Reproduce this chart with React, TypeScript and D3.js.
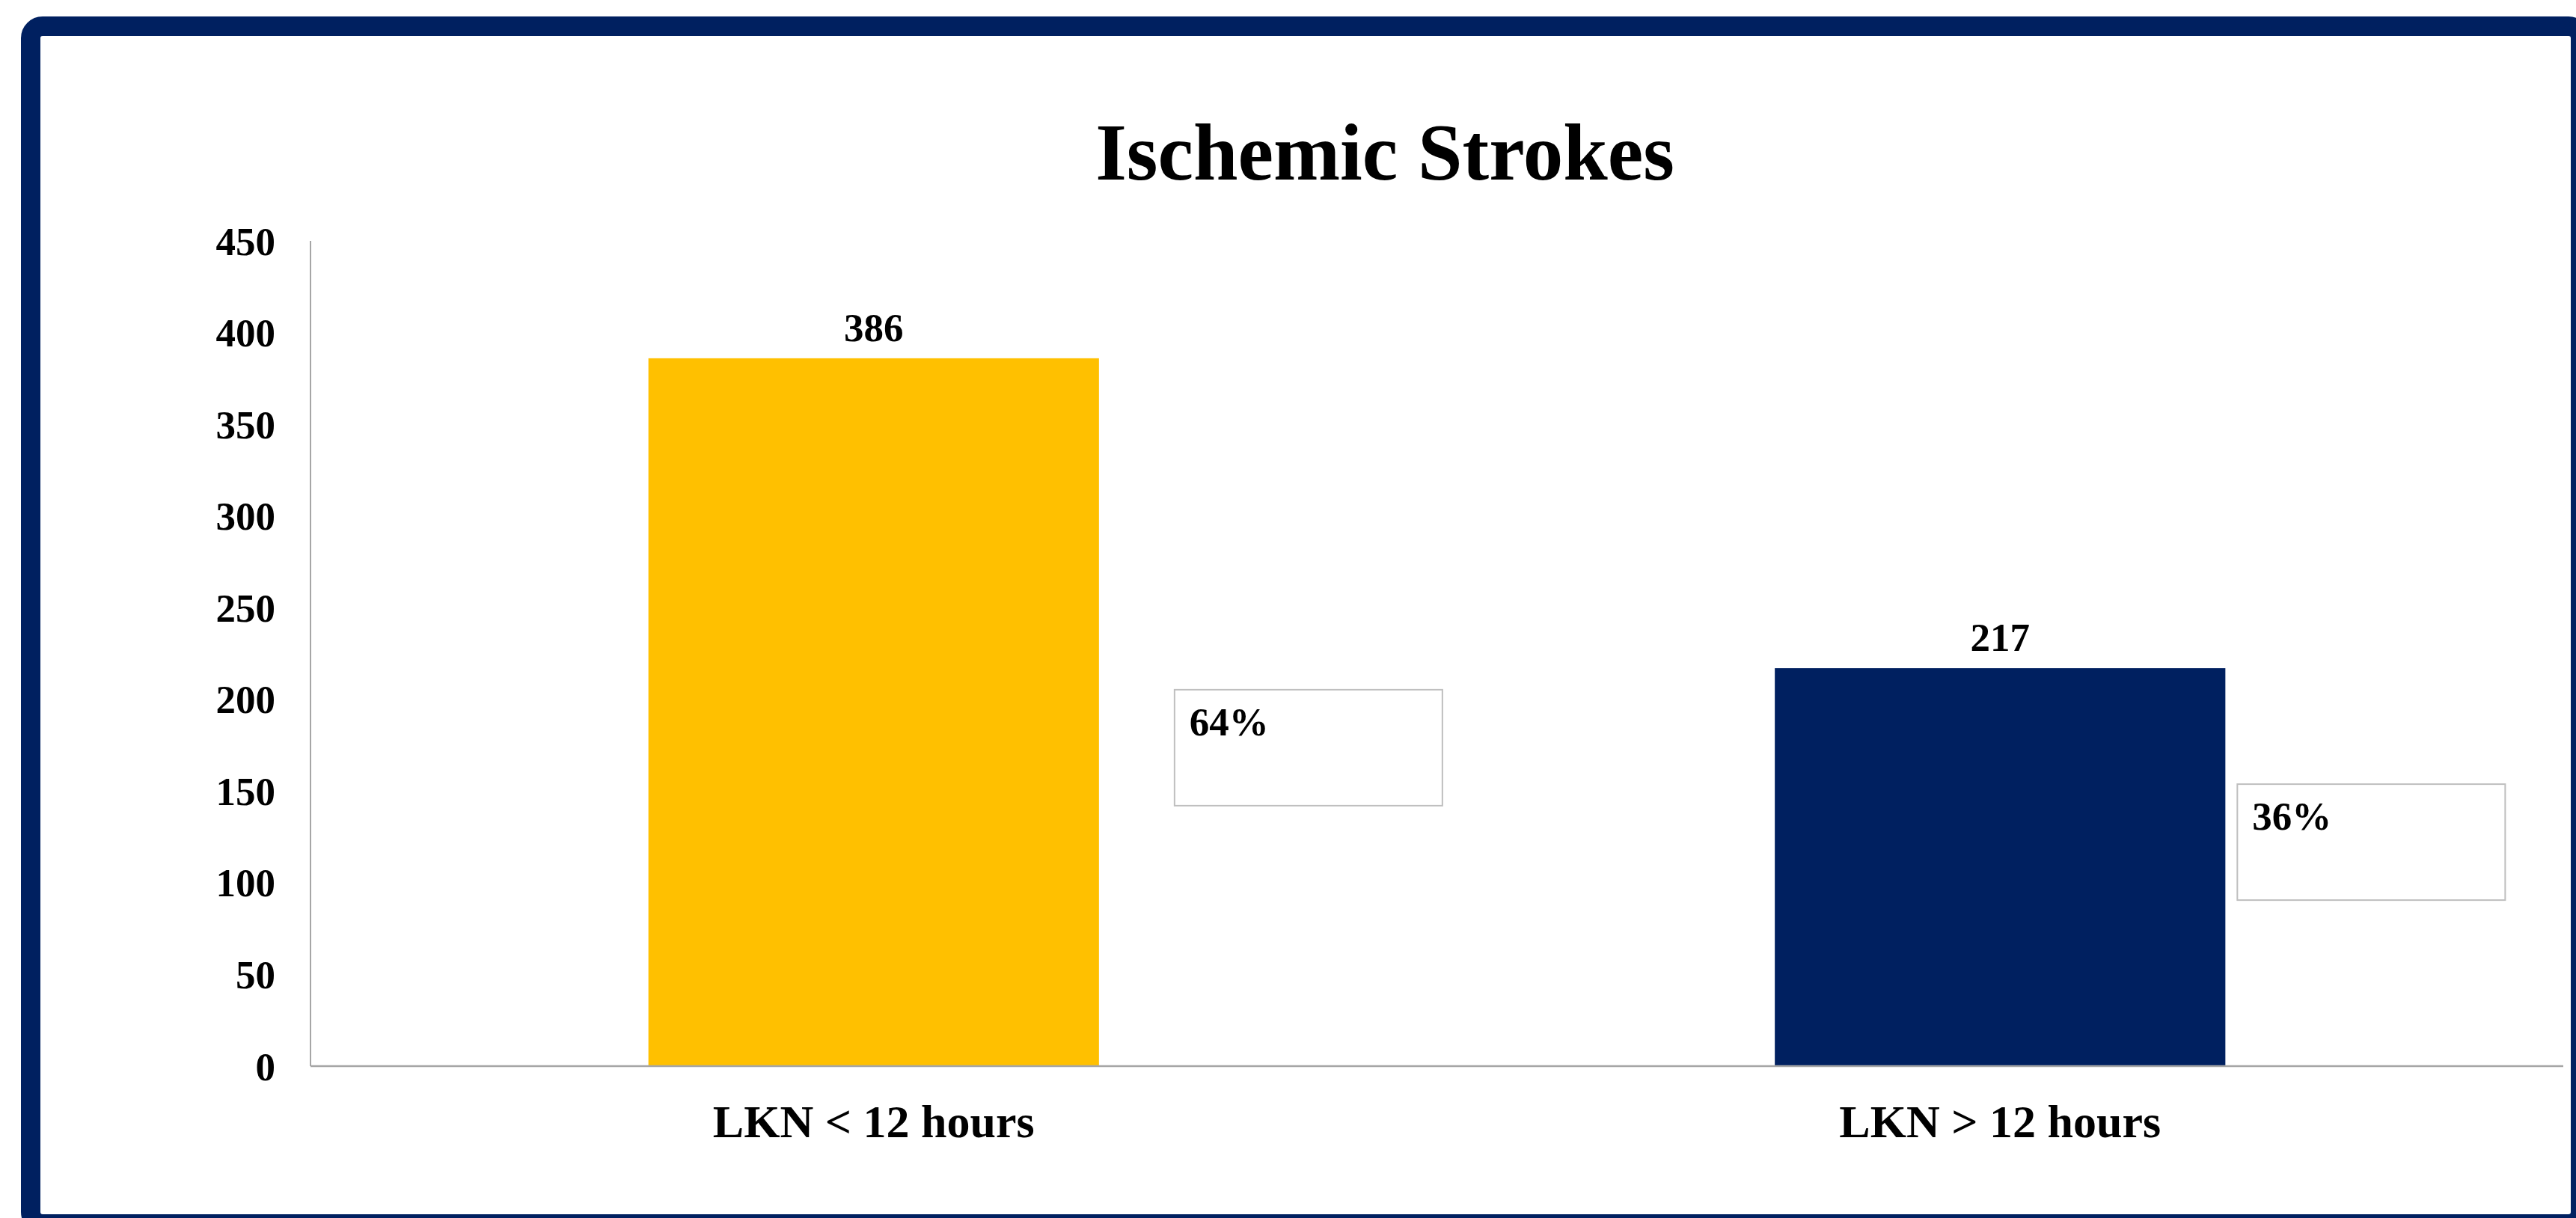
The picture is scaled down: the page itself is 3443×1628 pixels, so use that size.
import React from "react";
import * as d3 from "d3";

// chart values
const categories = ["LKN < 12 hours", "LKN > 12 hours"];
const strokeCounts = [386, 217];
const shareLabels = ["64%", "36%"];
const barColors = ["#FFC000", "#002060"];
const yTickValues = [0, 50, 100, 150, 200, 250, 300, 350, 400, 450];

// callout boxes for the share labels (offsets from the bar's right / top edge)
const calloutOffsets = [
    { dx: 101, dy: 443 },
    { dx: 16, dy: 155 },
];

const W = 3443;
const H = 1628;
const FONT = "'Liberation Serif', 'Times New Roman', Times, serif";
const NAVY = "#002060";

export default function App() {
    const ref = React.useRef<SVGSVGElement>(null);

    React.useEffect(() => {
        drawChart();
    }, []);

    function drawChart() {
        const svg = d3.select(ref.current);
        svg.selectAll("*").remove();

        const margin = { top: 322, bottom: 203, left: 415, right: 17 };
        const width = W - margin.left - margin.right;
        const height = H - margin.top - margin.bottom;

        svg.append("rect").attr("width", W).attr("height", H).attr("fill", "#ffffff");

        // navy frame, running off the right and bottom edges
        svg.append("rect")
            .attr("x", 41)
            .attr("y", 35)
            .attr("width", 3408)
            .attr("height", 1601)
            .attr("rx", 16)
            .attr("fill", "none")
            .attr("stroke", NAVY)
            .attr("stroke-width", 26);

        // title
        svg.append("text")
            .attr("x", 1851)
            .attr("y", 240)
            .attr("text-anchor", "middle")
            .attr("font-family", FONT)
            .attr("font-weight", "bold")
            .attr("font-size", 107)
            .attr("fill", "#000")
            .text("Ischemic Strokes");

        const g = svg
            .append("g")
            .attr("transform", `translate(${margin.left},${margin.top})`);

        const x = d3
            .scaleBand()
            .domain(categories)
            .range([0, width])
            .paddingInner(0.6)
            .paddingOuter(0.3);

        const y = d3.scaleLinear().domain([0, 450]).range([height, 0]);

        // y tick labels
        g.selectAll(".ytick")
            .data(yTickValues)
            .enter()
            .append("text")
            .attr("class", "ytick")
            .attr("x", -47)
            .attr("y", (d) => y(d))
            .attr("dy", "0.35em")
            .attr("text-anchor", "end")
            .attr("font-family", FONT)
            .attr("font-weight", "bold")
            .attr("font-size", 53)
            .attr("fill", "#000")
            .text((d) => d);

        // bars
        g.selectAll(".bar")
            .data(strokeCounts)
            .enter()
            .append("rect")
            .attr("class", "bar")
            .attr("x", (d, i) => x(categories[i]))
            .attr("y", (d) => y(d))
            .attr("width", x.bandwidth())
            .attr("height", (d) => y(0) - y(d))
            .attr("fill", (d, i) => barColors[i]);

        // axis lines
        g.append("line")
            .attr("x1", 0)
            .attr("x2", 0)
            .attr("y1", 0)
            .attr("y2", height)
            .attr("stroke", "#A6A6A6")
            .attr("stroke-width", 2);
        g.append("line")
            .attr("x1", 0)
            .attr("x2", width)
            .attr("y1", height)
            .attr("y2", height)
            .attr("stroke", "#A6A6A6")
            .attr("stroke-width", 2.5);

        // value labels
        g.selectAll(".value")
            .data(strokeCounts)
            .enter()
            .append("text")
            .attr("class", "value")
            .attr("x", (d, i) => x(categories[i]) + x.bandwidth() / 2)
            .attr("y", (d) => y(d) - 23)
            .attr("text-anchor", "middle")
            .attr("font-family", FONT)
            .attr("font-weight", "bold")
            .attr("font-size", 53)
            .attr("fill", "#000")
            .text((d) => d);

        // category labels
        g.selectAll(".cat")
            .data(categories)
            .enter()
            .append("text")
            .attr("class", "cat")
            .attr("x", (d) => x(d) + x.bandwidth() / 2)
            .attr("y", height + 95)
            .attr("text-anchor", "middle")
            .attr("font-family", FONT)
            .attr("font-weight", "bold")
            .attr("font-size", 62)
            .attr("fill", "#000")
            .text((d) => d);

        // share callouts
        const callout = g
            .selectAll(".callout")
            .data(shareLabels)
            .enter()
            .append("g")
            .attr("class", "callout")
            .attr("transform", (d, i) => {
                const bx = x(categories[i]) + x.bandwidth() + calloutOffsets[i].dx;
                const by = y(strokeCounts[i]) + calloutOffsets[i].dy;
                return `translate(${bx},${by})`;
            });
        callout
            .append("rect")
            .attr("width", 358)
            .attr("height", 155)
            .attr("fill", "#ffffff")
            .attr("stroke", "#BFBFBF")
            .attr("stroke-width", 2);
        callout
            .append("text")
            .attr("x", 20)
            .attr("y", 61)
            .attr("font-family", FONT)
            .attr("font-weight", "bold")
            .attr("font-size", 53)
            .attr("fill", "#000")
            .text((d) => d);
    }

    return (
        <div style={{ position: "absolute", left: 0, top: 0 }}>
            <svg ref={ref} width={W} height={H} style={{ display: "block" }} />
        </div>
    );
}
